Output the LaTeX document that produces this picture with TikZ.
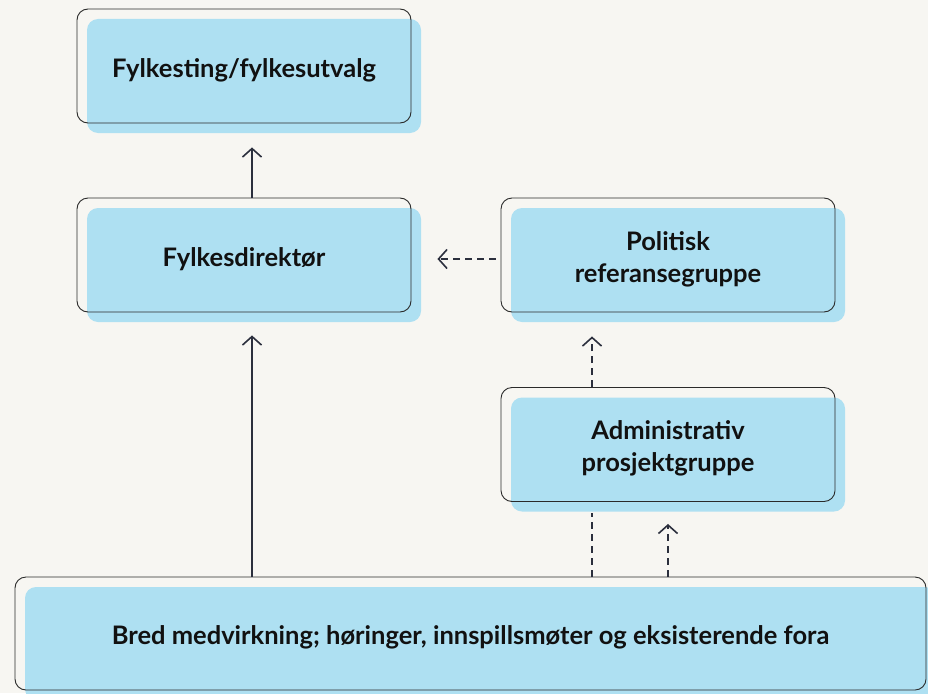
\documentclass[tikz,border=0pt]{standalone}
\usepackage{fontspec}
\setmainfont{Lato}
\usetikzlibrary{arrows.meta,shadows}
\definecolor{bgc}{HTML}{F7F6F2}
\definecolor{boxblue}{HTML}{AEE0F2}
\definecolor{edge}{HTML}{2A2A2A}
\definecolor{arrc}{HTML}{2B2F3D}
\definecolor{txt}{HTML}{111111}
\tikzset{
  orgbox/.style={draw=edge, line width=0.9pt, rounded corners=11pt, inner sep=0pt,
    minimum width=334pt, minimum height=114pt, align=center, text=txt,
    font=\fontsize{25.5}{32}\selectfont\bfseries,
    general shadow={fill=boxblue, draw=none, shadow xshift=10pt, shadow yshift=-10pt}},
  boxtext/.style={align=center, text=txt, inner sep=0pt, font=\fontsize{25.5}{32}\selectfont\bfseries},
  conn/.style={draw=arrc, line width=1.5pt},
  tip/.style={-{Straight Barb[length=8.5pt,width=19pt,line width=1.6pt]}},
  dashy/.style={dash pattern=on 7pt off 5pt},
}
\begin{document}
\begin{tikzpicture}[x=1pt,y=-1pt]
\fill[bgc] (0,0) rectangle (928,693);
\useasboundingbox (0,0) rectangle (928,693);
\node[orgbox, label={[boxtext,yshift=-4pt]center:Fylkesting/fylkesutvalg}] (top) at (244,66) {};
\node[orgbox, label={[boxtext,yshift=-4pt]center:Fylkesdirektør}] (fd) at (244,255) {};
\node[orgbox, label={[boxtext,yshift=-4pt]center:Politisk\\referansegruppe}] (pol) at (668,255) {};
\node[orgbox, label={[boxtext,yshift=-4pt]center:Administrativ\\prosjektgruppe}] (adm) at (668,444.5) {};
\node[orgbox, minimum width=911pt, minimum height=113pt,
  label={[boxtext,yshift=-4pt]center:Bred medvirkning; høringer, innspillsmøter og eksisterende fora}] (bot) at (470.5,633.5) {};
% solid arrows
\draw[conn,tip,shorten >=24pt] ([xshift=8pt]fd.north) -- ([xshift=8pt]top.south);
\draw[conn,tip,shorten >=23pt] ([xshift=8pt]fd.south |- bot.north) -- ([xshift=8pt]fd.south);
% dashed arrows
\draw[conn,tip,dashy,shorten <=5pt,shorten >=26pt] ([yshift=-4pt]pol.west) -- ([yshift=-4pt]fd.east);
\draw[conn,tip,dashy,shorten >=24pt] ([xshift=-76pt]adm.north) -- ([xshift=-76pt]pol.south);
\draw[conn,dashy,shorten >=11pt] ([xshift=-76pt]adm.south |- bot.north) -- ([xshift=-76pt]adm.south);
\draw[conn,tip,dashy,shorten >=22pt] (adm.south |- bot.north) -- (adm.south);
\end{tikzpicture}
\end{document}
